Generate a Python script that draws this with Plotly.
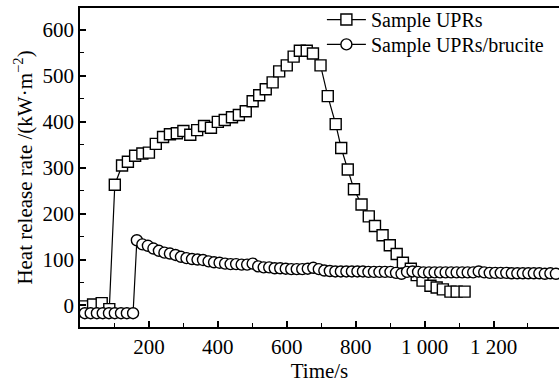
import plotly.graph_objects as go

# Sample UPRs (squares)
upr_t = [14, 38, 63, 85, 101, 122, 139, 160, 181, 200, 220, 241, 261, 281, 300, 320,
         340, 360, 380, 400, 420, 441, 461, 481, 501, 520, 539, 559, 578, 600, 620,
         638, 658, 676, 698, 719, 742, 758, 777, 795, 817, 838, 856, 878, 899, 919,
         937, 960, 977, 994, 1017, 1035, 1053, 1075, 1093, 1116]
upr_v = [-2, 2, 5, -8, 263, 305, 313, 326, 331, 333, 352, 367, 373, 375, 380, 372,
         382, 391, 387, 400, 404, 410, 415, 423, 445, 458, 471, 486, 510, 523, 542,
         555, 555, 549, 523, 456, 395, 343, 296, 253, 220, 194, 173, 153, 131, 112,
         93, 80, 66, 54, 43, 39, 35, 30, 30, 30]

# Sample UPRs/brucite (circles)
bru_t = [14, 31, 49, 66, 84, 101, 119, 136, 154,
         165, 181, 197, 213, 229, 245, 261, 277, 293, 309, 325, 341, 357, 373, 389,
         405, 421, 437, 453, 469, 485, 501, 517, 533, 549, 565, 581, 597, 613, 629,
         645, 661, 677, 693, 709, 725, 741, 757, 773, 789, 805, 821, 837, 853, 869,
         885, 901, 917, 933, 949, 965, 981, 997, 1013, 1029, 1045, 1061, 1077, 1093,
         1109, 1125, 1141, 1157, 1173, 1189, 1205, 1221, 1237, 1253, 1269, 1285,
         1301, 1317, 1333, 1349, 1365, 1381]
bru_v = [-17, -17, -17, -17, -17, -17, -17, -17, -17,
         142, 133, 130, 124, 119, 115, 113, 110, 106, 103, 101, 100, 99, 96, 94,
         93, 91, 90, 90, 89, 89, 91, 85, 83, 83, 81, 81, 80, 79, 79,
         79, 80, 82, 79, 76, 75, 74, 74, 74, 74, 74, 74, 73, 73, 73,
         73, 73, 71, 69, 73, 74, 73, 72, 72, 72, 72, 72, 72, 72,
         72, 72, 72, 74, 72, 71, 71, 71, 71, 70, 70, 70,
         70, 70, 70, 69, 70, 69]

x_tickvals = [200, 400, 600, 800, 1000, 1200]
x_ticktext = ["200", "400", "600", "800", "1 000", "1 200"]

FONT = "Liberation Serif"
FS = 21
LFS = 20

fig = go.Figure()
fig.add_trace(go.Scatter(
    x=upr_t, y=upr_v, mode="lines+markers", name="Sample UPRs",
    legend="legend",
    line=dict(color="black", width=1.2),
    marker=dict(symbol="square", size=11, color="white",
                line=dict(color="black", width=1.4)),
))
fig.add_trace(go.Scatter(
    x=bru_t, y=bru_v, mode="lines+markers", name="Sample UPRs/brucite",
    legend="legend2",
    line=dict(color="black", width=1.2),
    marker=dict(symbol="circle", size=11, color="white",
                line=dict(color="black", width=1.4)),
))

leg_common = dict(xanchor="left", yanchor="top", bgcolor="rgba(0,0,0,0)",
                  font=dict(size=LFS, family=FONT), itemwidth=39)

fig.update_layout(
    width=559, height=383,
    margin=dict(l=80, r=0, t=5, b=56),
    paper_bgcolor="white", plot_bgcolor="white",
    font=dict(family=FONT, size=FS, color="black"),
    showlegend=True,
    legend=dict(x=0.505, y=1.025, **leg_common),
    legend2=dict(x=0.505, y=0.947, **leg_common),
    xaxis=dict(
        range=[0, 1390], showgrid=False, zeroline=False,
        showline=True, linecolor="black", linewidth=1.5, mirror=True,
        tickmode="array", tickvals=x_tickvals, ticktext=x_ticktext,
        ticks="inside", ticklen=6, tickwidth=1.5, tickcolor="black",
        minor=dict(dtick=100, tick0=0, ticks="inside", ticklen=4,
                   tickwidth=1.3, tickcolor="black"),
        tickfont=dict(size=FS),
        title=dict(text="Time/s", font=dict(size=FS), standoff=0),
    ),
    yaxis=dict(
        range=[-47, 648], showgrid=False, zeroline=False,
        showline=True, linecolor="black", linewidth=1.5,
        tickmode="linear", tick0=0, dtick=100,
        ticks="inside", ticklen=6, tickwidth=1.5, tickcolor="black",
        minor=dict(dtick=50, tick0=0, ticks="inside", ticklen=4,
                   tickwidth=1.3, tickcolor="black"),
        tickfont=dict(size=FS),
        title=dict(text="Heat release rate /(kW·m<sup>−2</sup>)",
                   font=dict(size=FS), standoff=4),
    ),
)

fig.write_html("out.html")
